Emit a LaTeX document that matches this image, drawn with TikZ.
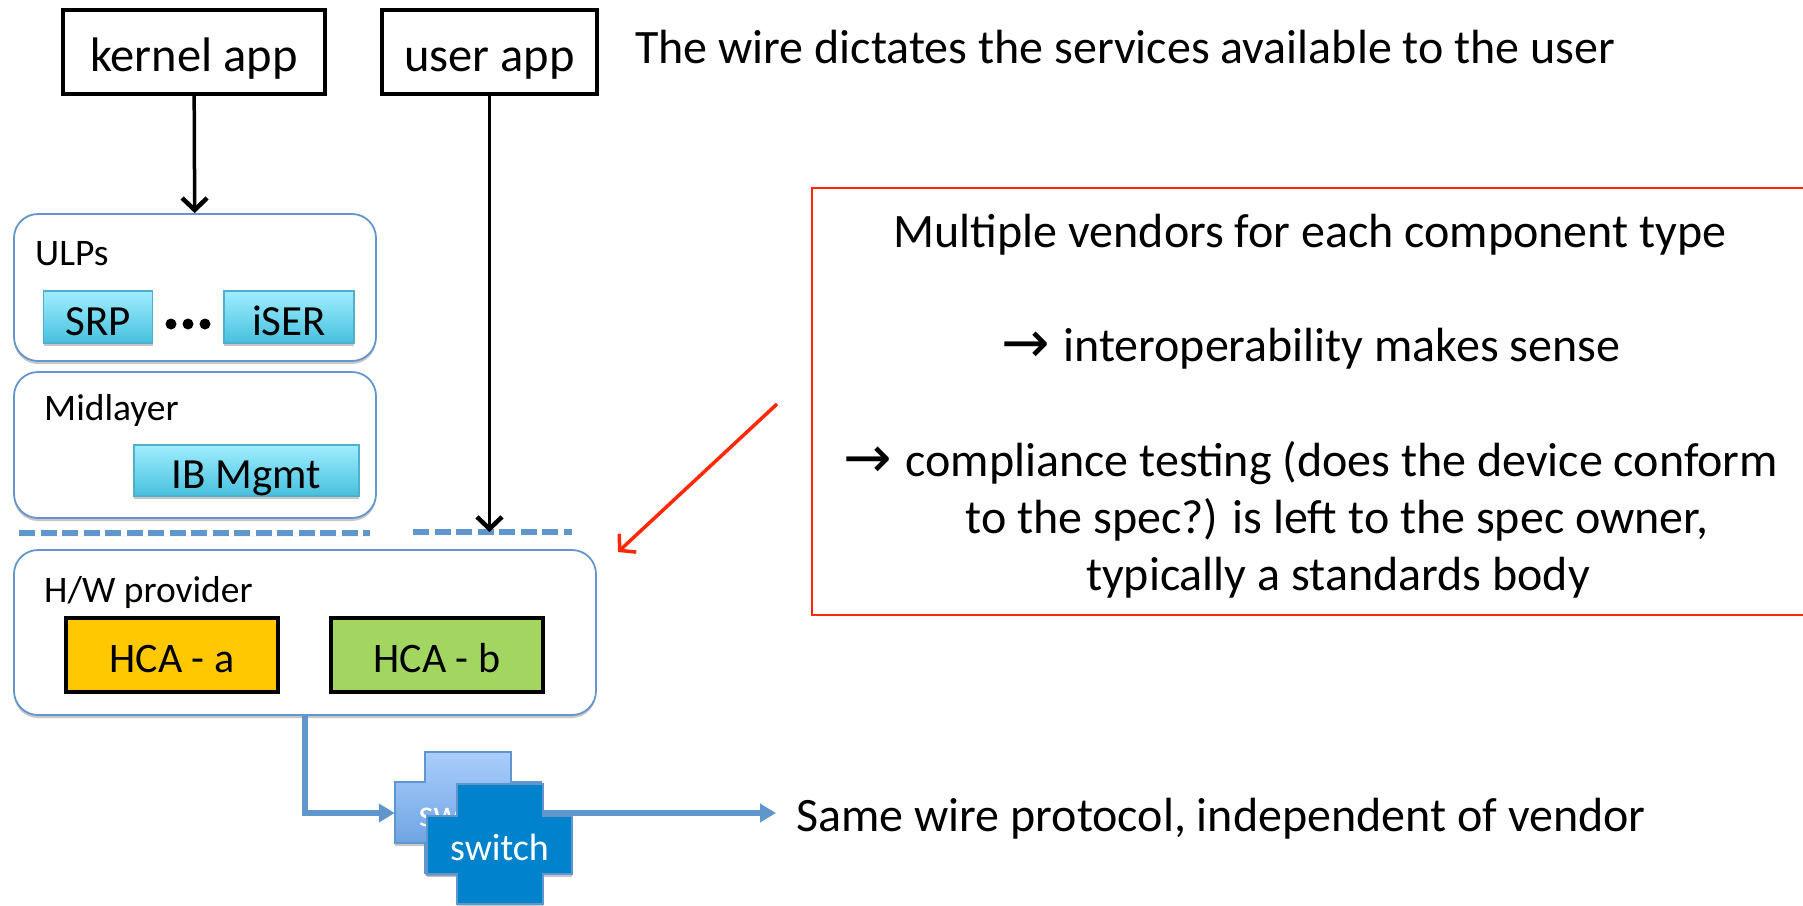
\documentclass[tikz,border=0pt]{standalone}
\usepackage{fontspec}
\setmainfont{Carlito}
\newfontfamily\arrowfont{DejaVu Sans}
\newcommand{\notearrow}{\raisebox{-1pt}{\arrowfont\fontsize{58}{62}\selectfont→}\hspace{13pt}}
\usetikzlibrary{arrows.meta,shadows}
\definecolor{wireblue}{RGB}{95,151,205}
\definecolor{layerblue}{RGB}{100,150,205}
\definecolor{tealtop}{RGB}{160,238,255}
\definecolor{tealbot}{RGB}{70,192,222}
\definecolor{tealline}{RGB}{80,175,205}
\definecolor{hcaorange}{RGB}{255,200,0}
\definecolor{hcagreen}{RGB}{162,214,96}
\definecolor{swfill}{RGB}{0,130,205}
\definecolor{swtop}{RGB}{170,205,252}
\definecolor{swbot}{RGB}{92,152,220}
\definecolor{notered}{RGB}{255,40,0}
\tikzset{softshadow/.style={drop shadow={shadow xshift=0pt,shadow yshift=-3pt,opacity=.22,fill=black}}}
\tikzset{appbox/.style={draw, line width=3.2pt, inner sep=0pt, text height=48pt, text depth=10pt, font=\fontsize{48.5}{54}\selectfont}}
\tikzset{layerbox/.style={draw=layerblue, fill=white, line width=1.8pt, rounded corners=24pt, softshadow}}
\tikzset{tealbox/.style={draw=tealline, line width=1.5pt, top color=tealtop, bottom color=tealbot, inner sep=0pt, softshadow, text height=43pt, text depth=7pt, font=\fontsize{43}{50}\selectfont}}
\tikzset{hcabox/.style={draw, line width=3.5pt, inner sep=0pt, text height=44pt, text depth=10pt, font=\fontsize{42}{50}\selectfont}}
\tikzset{smalltext/.style={anchor=base west, inner sep=0pt, font=\fontsize{37.5}{44}\selectfont}}
\tikzset{bigtext/.style={anchor=base, inner sep=0pt, font=\fontsize{48}{54}\selectfont}}
\tikzset{sidetext/.style={anchor=base west, inner sep=0pt, font=\fontsize{48}{54}\selectfont}}
\tikzset{swlabel/.style={inner sep=0pt, text=white, minimum width=146pt, minimum height=60pt, text height=37pt, text depth=10pt, font=\fontsize{38}{44}\selectfont}}
\tikzset{wire/.style={draw=wireblue, line width=5.5pt, -{Triangle[length=16pt,width=18pt]}}}
\tikzset{call/.style={line width=3.5pt, -{Straight Barb[length=12pt,width=25pt,line width=4.5pt]}}}
\tikzset{wall/.style={draw=wireblue, line width=5.5pt, dash pattern=on 16pt off 5.5pt, softshadow}}
\begin{document}
\begin{tikzpicture}[x=1pt,y=-1pt]
\useasboundingbox (0,0) rectangle (1803,905);

\node[appbox, minimum width=262pt, minimum height=84pt] (kernel) at (194,52) {kernel app};
\node[appbox, minimum width=215pt, minimum height=84pt] (user) at (489.5,52) {user app};
\node[sidetext] (wiretext) at (635,63) {The wire dictates the services available to the user};

\node[layerbox, minimum width=362pt, minimum height=147pt] (ulps) at (195,287.5) {};
\node[smalltext] (ulpstext) at (35,265) {ULPs};
\node[tealbox, minimum width=109pt, minimum height=52pt] (srp) at (98,317) {SRP};
\node[tealbox, minimum width=130pt, minimum height=52pt] (iser) at (289,317) {iSER};
\foreach \i in {1,2,3} {
    \pgfmathsetmacro{\dotx}{154 + 17*\i}
    \node[fill, circle, inner sep=0pt, minimum size=11pt] (dot\i) at (\dotx,324) {};
}

\node[layerbox, minimum width=362pt, minimum height=146pt] (mid) at (195,445) {};
\node[smalltext] (midtext) at (44,420) {Midlayer};
\node[tealbox, minimum width=225pt, minimum height=51pt] (mgmt) at (246.5,470.5) {IB Mgmt};

\coordinate (wallA) at (19,533);
\coordinate (wallB) at (370,533);
\coordinate (wallC) at (413,532);
\coordinate (wallD) at (572,532);
\draw[wall] (wallA) -- (wallB);
\draw[wall] (wallC) -- (wallD);

\node[layerbox, minimum width=582pt, minimum height=165pt] (hw) at (305,632.5) {};
\node[smalltext] (hwtext) at (44,602) {H/W provider};
\node[hcabox, fill=hcaorange, minimum width=212pt, minimum height=74pt] (hcaa) at (172,655) {HCA - a};
\node[hcabox, fill=hcagreen, minimum width=212pt, minimum height=74pt] (hcab) at (437,655) {HCA - b};

\draw[call] (kernel) -- (ulps);
\draw[call] (user) -- (user |- wallC);

\path[draw=wireblue, line width=1.5pt, top color=swtop, bottom color=swbot, softshadow]
    (425,752) -- (511,752) -- (511,782) -- (541,782) -- (541,843) -- (511,843) -- (511,873)
    -- (425,873) -- (425,843) -- (395,843) -- (395,782) -- (425,782) -- cycle;
\node[swlabel] (swback) at (468,813) {switch};
\coordinate (wireout) at (776,813);
\coordinate (hwout) at (305,715);
\draw[wire] (hwout) |- (swback.west);
\draw[wire] (swback.east) -- (wireout);
\path[draw=wireblue, line width=1.5pt, fill=swfill, softshadow]
    (457,784) -- (543,784) -- (543,816) -- (572,816) -- (572,874) -- (543,874) -- (543,904)
    -- (457,904) -- (457,874) -- (427,874) -- (427,816) -- (457,816) -- cycle;
\node[swlabel, minimum width=145pt, minimum height=58pt] (swfront) at (499.5,847) {switch};
\node[sidetext] (sametext) at (796,831) {Same wire protocol, independent of vendor};

\node[draw=notered, line width=2pt, minimum width=1010pt, minimum height=427pt] (note) at (1317,401) {};
\node[bigtext] (noteA) at (1310,247) {Multiple vendors for each component type};
\node[bigtext] (noteB) at (1311,361) {\notearrow interoperability makes sense};
\node[bigtext] (noteC) at (1311,476) {\notearrow compliance testing (does the device conform};
\node[bigtext] (noteD) at (1337,533) {to the spec?) is left to the spec owner,};
\node[bigtext] (noteE) at (1338,590) {typically a standards body};

\coordinate (calloutA) at (777,404);
\coordinate (calloutB) at (618,552);
\draw[draw=notered, line width=3.5pt, -{Straight Barb[length=11pt,width=25pt]}] (calloutA) -- (calloutB);
\end{tikzpicture}
\end{document}
